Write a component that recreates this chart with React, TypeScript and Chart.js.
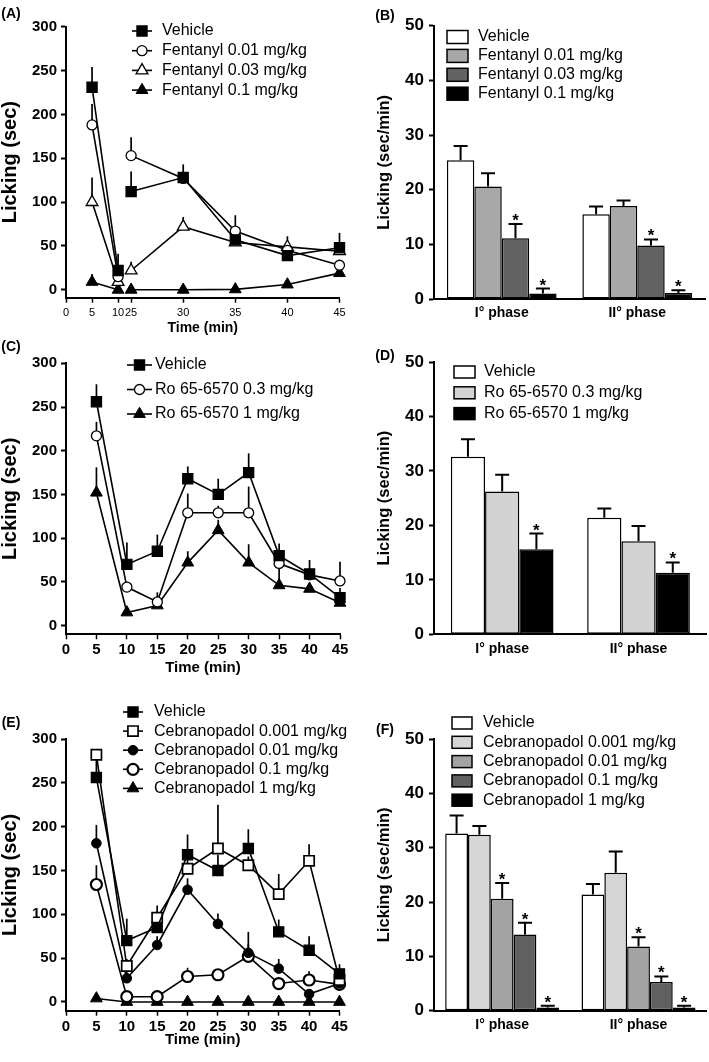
import React, { useEffect, useRef } from 'react';
import { Chart, registerables, LinearScale } from 'chart.js';

Chart.register(...registerables);

const FONT = '"Liberation Sans", Arial, Helvetica, sans-serif';
Chart.defaults.font.family = FONT;
Chart.defaults.color = '#000';

// ================= DATA =================
// Panel A – fentanyl time course (licking, sec)
const timesA = [5, 10, 25, 30, 35, 40, 45];
const xTicksA = [0, 5, 10, 25, 30, 35, 40, 45];
const breakA = 17.5; // interruption of the time axis between 10 and 25 min
const labelsA = ['Vehicle', 'Fentanyl 0.01 mg/kg', 'Fentanyl 0.03 mg/kg', 'Fentanyl 0.1 mg/kg'];
const vehicleA = [231, 22, 112, 128, 57, 39, 48];
const vehicleA_sem = [23, 19, 23, 15, 15, 8, 17];
const fen001A = [188, 15, 153, 127, 67, 45, 28];
const fen001A_sem = [24, 8, 21, 8, 18, 8, 5];
const fen003A = [100, 9, 22, 72, 54, 49, 44];
const fen003A_sem = [28, 6, 10, 11, 8, 12, 6];
const fen01A = [9, 0, 0, 0, 0.5, 6, 19];
const fen01A_sem = [9, 0, 0, 0, 0, 2, 3];

// Panel B – fentanyl phases (sec/min)
const phaseLabels = ['I° phase', 'II° phase'];
const vehicleB = [25.4, 15.5];
const vehicleB_sem = [2.6, 1.4];
const fen001B = [20.6, 17.0];
const fen001B_sem = [2.4, 1.0];
const fen003B = [11.1, 9.8];
const fen003B_sem = [2.6, 1.1];
const fen01B = [1.0, 1.1];
const fen01B_sem = [0.9, 0.5];
const sigB = [[false, false], [false, false], [true, true], [true, true]];

// Panel C – Ro 65-6570 time course
const timesC = [5, 10, 15, 20, 25, 30, 35, 40, 45];
const xTicksC = [0, 5, 10, 15, 20, 25, 30, 35, 40, 45];
const labelsC = ['Vehicle', 'Ro 65-6570 0.3 mg/kg', 'Ro 65-6570 1 mg/kg'];
const vehicleC = [256, 70, 85, 168, 150, 175, 80, 59, 32];
const vehicleC_sem = [20, 25, 19, 14, 18, 22, 14, 16, 11];
const ro03C = [217, 44, 27, 129, 129, 129, 71, 58, 51];
const ro03C_sem = [16, 6, 11, 22, 8, 30, 8, 8, 22];
const ro1C = [152, 15, 23, 72, 109, 72, 46, 42, 26];
const ro1C_sem = [29, 4, 5, 13, 12, 21, 22, 5, 3];

// Panel D – Ro 65-6570 phases
const vehicleD = [32.6, 21.4];
const vehicleD_sem = [3.2, 1.7];
const ro03D = [26.2, 17.1];
const ro03D_sem = [3.1, 2.8];
const ro1D = [15.6, 11.3];
const ro1D_sem = [2.9, 1.9];
const sigD = [[false, false], [false, false], [true, true]];

// Panel E – cebranopadol time course
const timesE = [5, 10, 15, 20, 25, 30, 35, 40, 45];
const xTicksE = [0, 5, 10, 15, 20, 25, 30, 35, 40, 45];
const labelsE = ['Vehicle', 'Cebranopadol 0.001 mg/kg', 'Cebranopadol 0.01 mg/kg', 'Cebranopadol 0.1 mg/kg', 'Cebranopadol 1 mg/kg'];
const vehicleE = [256, 70, 85, 168, 150, 175, 80, 59, 32];
const vehicleE_sem = [20, 25, 19, 23, 18, 22, 14, 16, 11];
const ceb0001E = [282, 41, 96, 152, 175, 156, 123, 161, 25];
const ceb0001E_sem = [5, 8, 14, 10, 50, 10, 23, 19, 5];
const ceb001E = [181, 27, 65, 128, 89, 56, 38, 9, 21];
const ceb001E_sem = [21, 8, 10, 13, 12, 10, 11, 5, 5];
const ceb01E = [134, 6, 6, 29, 31, 52, 21, 25, 20];
const ceb01E_sem = [22, 2, 2, 10, 6, 28, 5, 10, 4];
const ceb1E = [4, 0, 0, 0, 0, 0, 0, 0, 0];
const ceb1E_sem = [0, 0, 0, 0, 0, 0, 0, 0, 0];

// Panel F – cebranopadol phases
const vehicleF = [32.6, 21.4];
const vehicleF_sem = [3.3, 1.9];
const ceb0001F = [32.4, 25.4];
const ceb0001F_sem = [1.6, 3.9];
const ceb001F = [20.6, 11.8];
const ceb001F_sem = [2.9, 1.7];
const ceb01F = [14.0, 5.3];
const ceb01F_sem = [2.2, 1.0];
const ceb1F = [0.6, 0.6];
const ceb1F_sem = [0.3, 0.3];
const sigF = [[false, false], [false, false], [true, true], [true, true], [true, true]];

const yTicksLine = [0, 50, 100, 150, 200, 250, 300];
const yTicksBar = [0, 10, 20, 30, 40, 50];

// ================= STYLES =================
type Marker = { style: 'rect' | 'circle' | 'triangle'; filled: boolean; r: number; bw: number };
const SQ_FILLED: Marker = { style: 'rect', filled: true, r: 7.2, bw: 1.2 };
const SQ_OPEN: Marker = { style: 'rect', filled: false, r: 7.2, bw: 1.7 };
const CIRC_OPEN: Marker = { style: 'circle', filled: false, r: 5, bw: 1.3 };
const CIRC_OPEN_THICK: Marker = { style: 'circle', filled: false, r: 5.5, bw: 2.2 };
const CIRC_FILLED: Marker = { style: 'circle', filled: true, r: 4.8, bw: 1 };
const TRI_OPEN: Marker = { style: 'triangle', filled: false, r: 6.8, bw: 1.3 };
const TRI_FILLED: Marker = { style: 'triangle', filled: true, r: 6.8, bw: 1 };

// ================= BROKEN TIME SCALE (panel A) =================
const warpA = (t: number) => (t <= 10 ? t / 10 : t <= 25 ? 1 + (t - 10) / 60 : 1.25 + (t - 25) / 5);
const unwarpA = (u: number) => (u <= 1 ? u * 10 : u <= 1.25 ? 10 + (u - 1) * 60 : 25 + (u - 1.25) * 5);

class BrokenTimeScale extends LinearScale {
  static id = 'brokenTime';
  getPixelForValue(value: any) {
    if (value === null || value === undefined || isNaN(value)) return NaN;
    const a = warpA(this.min);
    const b = warpA(this.max);
    return this.getPixelForDecimal((warpA(value) - a) / (b - a));
  }
  getValueForPixel(pixel: number) {
    const a = warpA(this.min);
    const b = warpA(this.max);
    return unwarpA(a + this.getDecimalForPixel(pixel) * (b - a));
  }
}
Chart.register(BrokenTimeScale as any);

// ================= HELPERS =================
function drawMarker(ctx: CanvasRenderingContext2D, m: Marker, x: number, y: number) {
  ctx.save();
  ctx.beginPath();
  if (m.style === 'rect') {
    const s = Math.SQRT1_2 * m.r;
    ctx.rect(x - s, y - s, 2 * s, 2 * s);
  } else if (m.style === 'circle') {
    ctx.arc(x, y, m.r, 0, Math.PI * 2);
  } else {
    for (let k = 0; k < 3; k++) {
      const a = (k * 2 * Math.PI) / 3;
      const px = x + Math.sin(a) * m.r;
      const py = y - Math.cos(a) * m.r;
      if (k === 0) ctx.moveTo(px, py);
      else ctx.lineTo(px, py);
    }
    ctx.closePath();
  }
  ctx.fillStyle = m.filled ? '#000' : '#fff';
  ctx.fill();
  ctx.lineWidth = m.bw;
  ctx.strokeStyle = '#000';
  ctx.stroke();
  ctx.restore();
}

const paperLegend = {
  id: 'paperLegend',
  afterDraw(chart: any, _args: any, opts: any) {
    const ctx = chart.ctx as CanvasRenderingContext2D;
    ctx.save();
    ctx.font = `${opts.fontSize}px ${FONT}`;
    ctx.textBaseline = 'middle';
    ctx.textAlign = 'left';
    chart.data.datasets.forEach((ds: any, i: number) => {
      const y = opts.y0 + i * opts.dy;
      if (opts.kind === 'line') {
        ctx.strokeStyle = '#000';
        ctx.lineWidth = 1.6;
        ctx.beginPath();
        ctx.moveTo(opts.x0, y);
        ctx.lineTo(opts.x1, y);
        ctx.stroke();
        drawMarker(ctx, ds.marker, (opts.x0 + opts.x1) / 2, y);
      } else {
        const h = opts.boxH;
        ctx.fillStyle = ds.backgroundColor;
        ctx.fillRect(opts.x0, y - h / 2, opts.x1 - opts.x0, h);
        ctx.strokeStyle = '#000';
        ctx.lineWidth = 1.5;
        ctx.strokeRect(opts.x0, y - h / 2, opts.x1 - opts.x0, h);
      }
      ctx.fillStyle = '#000';
      ctx.fillText(ds.label, opts.textX, y);
    });
    ctx.font = `bold 14px ${FONT}`;
    ctx.textAlign = 'center';
    ctx.fillText(opts.panel, opts.panelX, opts.panelY);
    ctx.restore();
  },
};

const lineErrors = {
  id: 'lineErrors',
  beforeDatasetsDraw(chart: any) {
    const ctx = chart.ctx as CanvasRenderingContext2D;
    const ys = chart.scales.y;
    ctx.save();
    ctx.strokeStyle = '#000';
    ctx.lineWidth = 1.7;
    chart.data.datasets.forEach((ds: any, i: number) => {
      const meta = chart.getDatasetMeta(i);
      meta.data.forEach((pt: any, j: number) => {
        const v = ds.data[j].y;
        const e = ds.errors[j];
        if (v === null || e === null || !(e > 0)) return;
        ctx.beginPath();
        ctx.moveTo(pt.x, pt.y);
        ctx.lineTo(pt.x, ys.getPixelForValue(v + e));
        ctx.stroke();
      });
    });
    ctx.restore();
  },
};

const barErrors = {
  id: 'barErrors',
  afterDatasetsDraw(chart: any) {
    const ctx = chart.ctx as CanvasRenderingContext2D;
    const ys = chart.scales.y;
    ctx.save();
    ctx.strokeStyle = '#000';
    ctx.fillStyle = '#000';
    ctx.lineWidth = 2;
    ctx.font = `bold 17px ${FONT}`;
    ctx.textAlign = 'center';
    ctx.textBaseline = 'alphabetic';
    chart.data.datasets.forEach((ds: any, i: number) => {
      const meta = chart.getDatasetMeta(i);
      meta.data.forEach((bar: any, j: number) => {
        const v = ds.data[j];
        const e = ds.errors[j];
        const top = ys.getPixelForValue(v + e);
        ctx.beginPath();
        ctx.moveTo(bar.x, bar.y);
        ctx.lineTo(bar.x, top);
        ctx.moveTo(bar.x - 7, top);
        ctx.lineTo(bar.x + 7, top);
        ctx.stroke();
        if (ds.sig[j]) ctx.fillText('*', bar.x, top + 2);
      });
    });
    ctx.restore();
  },
};

function lineDataset(label: string, times: number[], values: number[], sems: number[], m: Marker, gapX?: number) {
  const data: any[] = [];
  const errors: any[] = [];
  times.forEach((t, i) => {
    if (gapX !== undefined && i > 0 && times[i - 1] < gapX && t > gapX) {
      data.push({ x: gapX, y: null });
      errors.push(null);
    }
    data.push({ x: t, y: values[i] });
    errors.push(sems[i]);
  });
  return {
    label, data, errors, marker: m,
    borderColor: '#000', borderWidth: 1.6,
    pointStyle: m.style, pointRadius: m.r, pointHoverRadius: m.r,
    pointBorderWidth: m.bw, pointBackgroundColor: m.filled ? '#000' : '#fff', pointBorderColor: '#000',
    tension: 0, clip: false, spanGaps: false, fill: false,
  };
}

function barDataset(label: string, values: number[], sems: number[], sig: boolean[], color: string, catPct: number) {
  return {
    label, data: values, errors: sems, sig,
    backgroundColor: color, borderColor: '#000', borderWidth: 1.5, borderSkipped: false,
    categoryPercentage: catPct, barPercentage: 1,
  };
}

type Area = { left: number; top: number; right: number; bottom: number };

function xTitleCfg(text: string, size: number, centerY: number, h: number) {
  return { display: true, text, color: '#000', font: { size, weight: 'bold', lineHeight: 1.2 }, padding: { top: 0, bottom: h - centerY - size * 0.6 } };
}
function yTitleCfg(text: string, size: number, centerX: number) {
  return { display: true, text, color: '#000', font: { size, weight: 'bold', lineHeight: 1.2 }, padding: { top: centerX - size * 0.6, bottom: 0 } };
}

function lineConfig(p: any) {
  const { w, h, area } = p as { w: number; h: number; area: Area };
  return {
    type: 'line',
    data: { datasets: p.datasets },
    plugins: [lineErrors, paperLegend],
    options: {
      animation: false, responsive: false, maintainAspectRatio: false, devicePixelRatio: 1,
      layout: { padding: { left: 0, top: area.top, right: w - area.right, bottom: 0 } },
      plugins: { legend: { display: false }, tooltip: { enabled: false }, paperLegend: p.legend },
      scales: {
        x: {
          type: p.xType, min: 0, max: 45,
          afterBuildTicks: (s: any) => { s.ticks = p.xTicks.map((v: number) => ({ value: v })); },
          afterFit: (s: any) => { s.height = h - area.bottom; },
          grid: { display: true, drawOnChartArea: false, drawTicks: true, tickLength: 5, tickWidth: 1.5, color: '#000' },
          border: { display: true, color: '#000', width: 2 },
          ticks: { color: '#000', font: p.xTickFont, padding: p.xTickPad, maxRotation: 0, autoSkip: false, callback: (v: any) => String(v) },
          title: xTitleCfg('Time (min)', p.xTitleSize, p.xTitleY, h),
        },
        y: {
          type: 'linear', min: p.yMin, max: 300,
          afterBuildTicks: (s: any) => { s.ticks = yTicksLine.map((v) => ({ value: v })); },
          afterFit: (s: any) => { s.width = area.left; },
          grid: { display: true, drawOnChartArea: false, drawTicks: true, tickLength: 5, tickWidth: 2, color: '#000' },
          border: { display: true, color: '#000', width: 2 },
          ticks: { color: '#000', font: { size: 15, weight: 'bold' }, padding: 4, callback: (v: any) => String(v) },
          title: yTitleCfg('Licking (sec)', 20, 10),
        },
      },
    },
  };
}

function barConfig(p: any) {
  const { w, h, area } = p as { w: number; h: number; area: Area };
  return {
    type: 'bar',
    data: { labels: phaseLabels, datasets: p.datasets },
    plugins: [barErrors, paperLegend],
    options: {
      animation: false, responsive: false, maintainAspectRatio: false, devicePixelRatio: 1,
      layout: { padding: { left: 0, top: area.top, right: w - area.right, bottom: 0 } },
      plugins: { legend: { display: false }, tooltip: { enabled: false }, paperLegend: p.legend },
      scales: {
        x: {
          type: 'category', offset: true,
          afterFit: (s: any) => { s.height = h - area.bottom; },
          grid: { display: false, drawTicks: false },
          border: { display: true, color: '#000', width: 2 },
          ticks: { color: '#000', font: { size: 14, weight: 'bold' }, padding: p.xTickPad, maxRotation: 0 },
        },
        y: {
          type: 'linear', min: 0, max: 50,
          afterBuildTicks: (s: any) => { s.ticks = yTicksBar.map((v) => ({ value: v })); },
          afterFit: (s: any) => { s.width = area.left; },
          grid: { display: true, drawOnChartArea: false, drawTicks: true, tickLength: 5, tickWidth: 2, color: '#000' },
          border: { display: true, color: '#000', width: 2 },
          ticks: { color: '#000', font: { size: 17, weight: 'bold' }, padding: 5, callback: (v: any) => String(v) },
          title: yTitleCfg('Licking (sec/min)', 16.5, 29),
        },
      },
    },
  };
}

// ================= PANEL CONFIGS =================
const makeA = () => lineConfig({
  w: 355, h: 340, area: { left: 66, top: 26.7, right: 339.5, bottom: 297.7 },
  xType: 'brokenTime', xTicks: xTicksA, yMin: -9,
  xTickFont: { size: 11, weight: 'normal' }, xTickPad: 4, xTitleSize: 14, xTitleY: 328.3,
  datasets: [
    lineDataset(labelsA[0], timesA, vehicleA, vehicleA_sem, SQ_FILLED, breakA),
    lineDataset(labelsA[1], timesA, fen001A, fen001A_sem, CIRC_OPEN, breakA),
    lineDataset(labelsA[2], timesA, fen003A, fen003A_sem, TRI_OPEN, breakA),
    lineDataset(labelsA[3], timesA, fen01A, fen01A_sem, TRI_FILLED, breakA),
  ],
  legend: { kind: 'line', x0: 132, x1: 152, textX: 162, y0: 31, dy: 19.7, fontSize: 16, panel: '(A)', panelX: 11, panelY: 14 },
});

const makeB = () => barConfig({
  w: 354, h: 340, area: { left: 79, top: 25.7, right: 350, bottom: 299 }, xTickPad: 6,
  datasets: [
    barDataset(labelsA[0], vehicleB, vehicleB_sem, sigB[0], '#ffffff', 0.81),
    barDataset(labelsA[1], fen001B, fen001B_sem, sigB[1], '#a8a8a8', 0.81),
    barDataset(labelsA[2], fen003B, fen003B_sem, sigB[2], '#636363', 0.81),
    barDataset(labelsA[3], fen01B, fen01B_sem, sigB[3], '#000000', 0.81),
  ],
  legend: { kind: 'box', x0: 92, x1: 113, boxH: 13, textX: 123, y0: 37, dy: 18.9, fontSize: 16, panel: '(B)', panelX: 30, panelY: 16 },
});

const makeC = () => lineConfig({
  w: 355, h: 350, area: { left: 66, top: 23.3, right: 340, bottom: 294.3 },
  xType: 'linear', xTicks: xTicksC, yMin: -10,
  xTickFont: { size: 15, weight: 'bold' }, xTickPad: 2, xTitleSize: 15, xTitleY: 328.3,
  datasets: [
    lineDataset(labelsC[0], timesC, vehicleC, vehicleC_sem, SQ_FILLED),
    lineDataset(labelsC[1], timesC, ro03C, ro03C_sem, CIRC_OPEN),
    lineDataset(labelsC[2], timesC, ro1C, ro1C_sem, TRI_FILLED),
  ],
  legend: { kind: 'line', x0: 127, x1: 152, textX: 155, y0: 25, dy: 24.5, fontSize: 16, panel: '(C)', panelX: 11, panelY: 7 },
});

const makeD = () => barConfig({
  w: 354, h: 350, area: { left: 79, top: 22, right: 351.7, bottom: 294.3 }, xTickPad: 6,
  datasets: [
    barDataset(labelsC[0], vehicleD, vehicleD_sem, sigD[0], '#ffffff', 0.753),
    barDataset(labelsC[1], ro03D, ro03D_sem, sigD[1], '#d3d3d3', 0.753),
    barDataset(labelsC[2], ro1D, ro1D_sem, sigD[2], '#000000', 0.753),
  ],
  legend: { kind: 'box', x0: 99, x1: 120, boxH: 12, textX: 129, y0: 32, dy: 20.8, fontSize: 16, panel: '(D)', panelX: 30, panelY: 16 },
});

const makeE = () => lineConfig({
  w: 355, h: 372, area: { left: 66, top: 49, right: 339.5, bottom: 320.7 },
  xType: 'linear', xTicks: xTicksE, yMin: -10,
  xTickFont: { size: 15, weight: 'bold' }, xTickPad: 2, xTitleSize: 15, xTitleY: 350,
  datasets: [
    lineDataset(labelsE[0], timesE, vehicleE, vehicleE_sem, SQ_FILLED),
    lineDataset(labelsE[1], timesE, ceb0001E, ceb0001E_sem, SQ_OPEN),
    lineDataset(labelsE[2], timesE, ceb001E, ceb001E_sem, CIRC_FILLED),
    lineDataset(labelsE[3], timesE, ceb01E, ceb01E_sem, CIRC_OPEN_THICK),
    lineDataset(labelsE[4], timesE, ceb1E, ceb1E_sem, TRI_FILLED),
  ],
  legend: { kind: 'line', x0: 123, x1: 143, textX: 154, y0: 22, dy: 19.1, fontSize: 16, panel: '(E)', panelX: 11, panelY: 33 },
});

const makeF = () => barConfig({
  w: 354, h: 372, area: { left: 79, top: 49, right: 351.7, bottom: 320.7 }, xTickPad: 6,
  datasets: [
    barDataset(labelsE[0], vehicleF, vehicleF_sem, sigF[0], '#ffffff', 0.836),
    barDataset(labelsE[1], ceb0001F, ceb0001F_sem, sigF[1], '#d6d6d6', 0.836),
    barDataset(labelsE[2], ceb001F, ceb001F_sem, sigF[2], '#a3a3a3', 0.836),
    barDataset(labelsE[3], ceb01F, ceb01F_sem, sigF[3], '#606060', 0.836),
    barDataset(labelsE[4], ceb1F, ceb1F_sem, sigF[4], '#000000', 0.836),
  ],
  legend: { kind: 'box', x0: 97, x1: 117, boxH: 12, textX: 128, y0: 33, dy: 19.3, fontSize: 16, panel: '(F)', panelX: 30, panelY: 40 },
});

// ================= COMPONENTS =================
function ChartBox({ left, top, width, height, make }: { left: number; top: number; width: number; height: number; make: () => any }) {
  const ref = useRef<HTMLCanvasElement>(null);
  useEffect(() => {
    const chart = new Chart(ref.current as HTMLCanvasElement, make());
    return () => chart.destroy();
  }, []);
  return (
    <div style={{ position: 'absolute', left, top, width, height }}>
      <canvas ref={ref} width={width} height={height} style={{ width, height, display: 'block' }} />
    </div>
  );
}

export default function App() {
  return (
    <div style={{ position: 'absolute', left: 0, top: 0, width: 709, height: 1062, background: '#fff', overflow: 'hidden' }}>
      <ChartBox left={0} top={0} width={355} height={340} make={makeA} />
      <ChartBox left={355} top={0} width={354} height={340} make={makeB} />
      <ChartBox left={0} top={340} width={355} height={350} make={makeC} />
      <ChartBox left={355} top={340} width={354} height={350} make={makeD} />
      <ChartBox left={0} top={690} width={355} height={372} make={makeE} />
      <ChartBox left={355} top={690} width={354} height={372} make={makeF} />
    </div>
  );
}
